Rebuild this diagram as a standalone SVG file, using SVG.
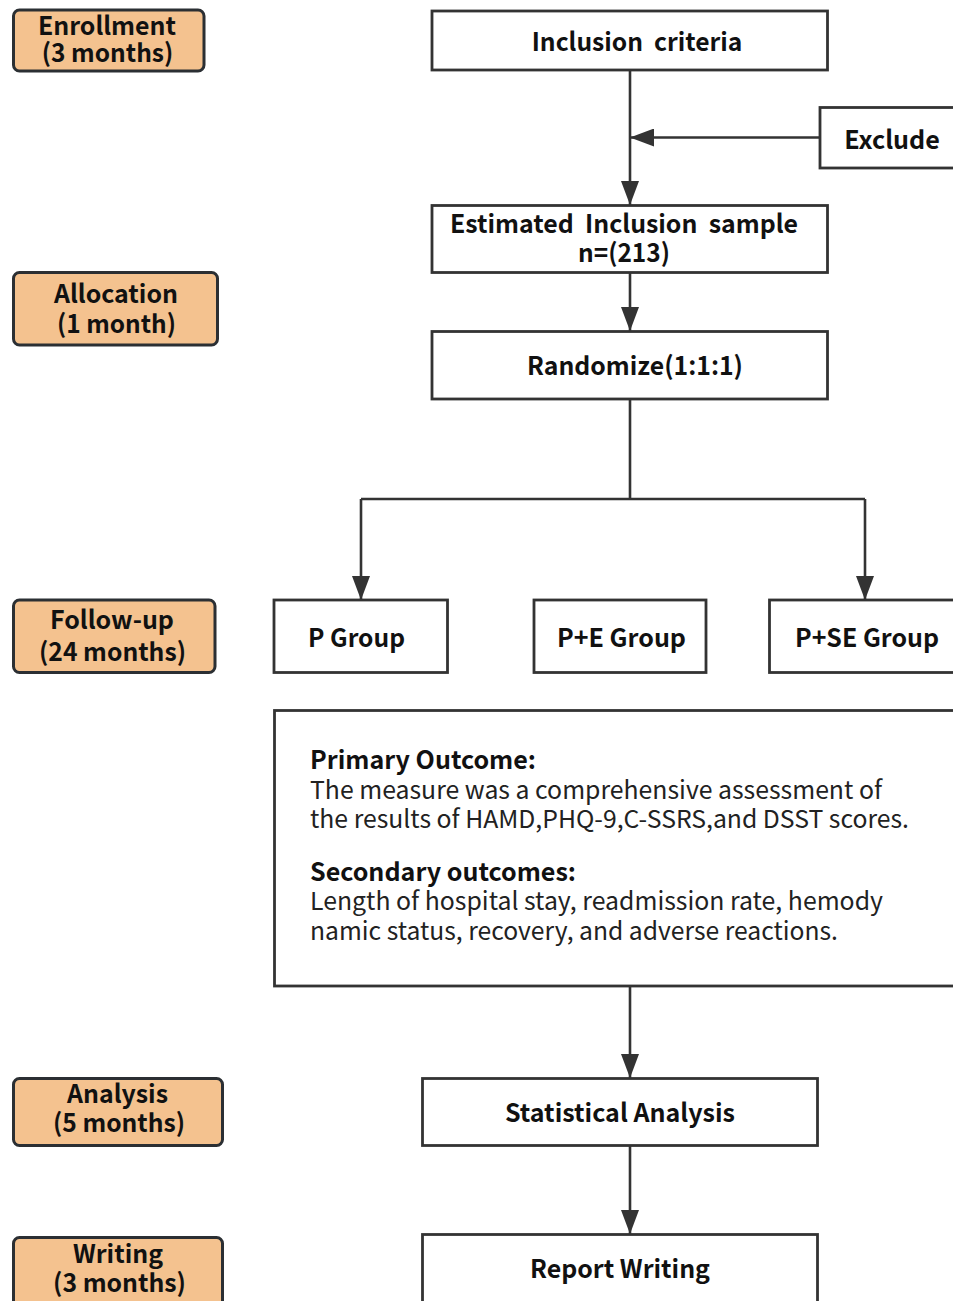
<svg xmlns="http://www.w3.org/2000/svg" width="953" height="1301" viewBox="0 0 953 1301">
<style>
.box{fill:#ffffff;stroke:#333333;stroke-width:2.8}
.phase{fill:#f4c28f;stroke:#2b2f33;stroke-width:3}
.lbl{font-family:"Noto Sans CJK SC","Noto Sans",sans-serif;font-weight:700;font-size:25.4px;fill:#111111;text-anchor:middle}
.body{font-family:"Noto Sans CJK SC","Noto Sans",sans-serif;font-weight:400;font-size:24.9px;fill:#222222}
.head{font-family:"Noto Sans CJK SC","Noto Sans",sans-serif;font-weight:700;font-size:25.2px;fill:#111111}
.con{fill:none;stroke:#333333;stroke-width:2.6}
</style>
<defs>
<marker id="arr" viewBox="0 0 24 18" refX="24" refY="9" markerWidth="24" markerHeight="18" markerUnits="userSpaceOnUse" orient="auto">
<path d="M0,0 L24,9 L0,18 z" fill="#333333"/>
</marker>
</defs>
<rect width="953" height="1301" fill="#ffffff"/>

<g id="connectors">
<path class="con" d="M630,70 V205" marker-end="url(#arr)"/>
<path class="con" d="M820,137.5 H630" marker-end="url(#arr)"/>
<path class="con" d="M630,272 V331" marker-end="url(#arr)"/>
<path class="con" d="M630,399 V499 M361,499 H865"/>
<path class="con" d="M361,499 V600" marker-end="url(#arr)"/>
<path class="con" d="M865,499 V600" marker-end="url(#arr)"/>
<path class="con" d="M630,986 V1078" marker-end="url(#arr)"/>
<path class="con" d="M630,1145 V1234" marker-end="url(#arr)"/>
</g>

<g id="phase-enrollment">
<rect class="phase" x="13.5" y="10" width="190.5" height="61" rx="6"/>
<text class="lbl" x="107" y="35" textLength="138" lengthAdjust="spacingAndGlyphs">Enrollment</text>
<text class="lbl" x="107.5" y="62" textLength="131.5" lengthAdjust="spacingAndGlyphs">(3 months)</text>
</g>
<g id="phase-allocation">
<rect class="phase" x="13.5" y="272.5" width="204" height="72.5" rx="6"/>
<text class="lbl" x="116" y="303" textLength="124" lengthAdjust="spacingAndGlyphs">Allocation</text>
<text class="lbl" x="116.5" y="333" textLength="119" lengthAdjust="spacingAndGlyphs">(1 month)</text>
</g>
<g id="phase-followup">
<rect class="phase" x="13.5" y="600" width="201.5" height="72.5" rx="6"/>
<text class="lbl" x="112" y="629" textLength="124" lengthAdjust="spacingAndGlyphs">Follow-up</text>
<text class="lbl" x="112.5" y="660.5" textLength="147" lengthAdjust="spacingAndGlyphs">(24 months)</text>
</g>
<g id="phase-analysis">
<rect class="phase" x="13.5" y="1078.5" width="209" height="67" rx="6"/>
<text class="lbl" x="117.5" y="1103" textLength="101" lengthAdjust="spacingAndGlyphs">Analysis</text>
<text class="lbl" x="119" y="1132" textLength="132" lengthAdjust="spacingAndGlyphs">(5 months)</text>
</g>
<g id="phase-writing">
<rect class="phase" x="13.5" y="1237.5" width="209" height="80" rx="6"/>
<text class="lbl" x="118" y="1263" textLength="90" lengthAdjust="spacingAndGlyphs">Writing</text>
<text class="lbl" x="119.5" y="1292" textLength="133" lengthAdjust="spacingAndGlyphs">(3 months)</text>
</g>

<g id="node-inclusion">
<rect class="box" x="432" y="11" width="395.5" height="59"/>
<text class="lbl" x="637" y="50.5" xml:space="preserve" textLength="210.5" lengthAdjust="spacingAndGlyphs">Inclusion  criteria</text>
</g>
<g id="node-exclude">
<rect class="box" x="820" y="107.5" width="160" height="60.5"/>
<text class="lbl" x="892" y="149" textLength="95.5" lengthAdjust="spacingAndGlyphs">Exclude</text>
</g>
<g id="node-estimated">
<rect class="box" x="432" y="205.5" width="395.5" height="67"/>
<text class="lbl" x="624" y="233" xml:space="preserve" textLength="348" lengthAdjust="spacingAndGlyphs">Estimated  Inclusion  sample</text>
<text class="lbl" x="624" y="262" textLength="92" lengthAdjust="spacingAndGlyphs">n=(213)</text>
</g>
<g id="node-randomize">
<rect class="box" x="432" y="331.5" width="395.5" height="67.5"/>
<text class="lbl" x="635" y="375" textLength="216" lengthAdjust="spacingAndGlyphs">Randomize(1:1:1)</text>
</g>
<g id="node-p">
<rect class="box" x="274" y="600" width="173.5" height="72.5"/>
<text class="lbl" x="356.5" y="647" textLength="97" lengthAdjust="spacingAndGlyphs">P Group</text>
</g>
<g id="node-pe">
<rect class="box" x="534" y="600" width="172" height="72.5"/>
<text class="lbl" x="621.5" y="647" textLength="129" lengthAdjust="spacingAndGlyphs">P+E Group</text>
</g>
<g id="node-pse">
<rect class="box" x="769.5" y="600" width="200" height="72.5"/>
<text class="lbl" x="867" y="647" textLength="144" lengthAdjust="spacingAndGlyphs">P+SE Group</text>
</g>
<g id="node-outcomes">
<rect class="box" x="274.5" y="710.5" width="700" height="275.5"/>
<text class="head" x="310" y="769" textLength="226" lengthAdjust="spacingAndGlyphs">Primary Outcome:</text>
<text class="body" x="310" y="799" textLength="572" lengthAdjust="spacingAndGlyphs">The measure was a comprehensive assessment of</text>
<text class="body" x="310" y="828" textLength="599" lengthAdjust="spacingAndGlyphs">the results of HAMD,PHQ-9,C-SSRS,and DSST scores.</text>
<text class="head" x="310" y="881" textLength="266" lengthAdjust="spacingAndGlyphs">Secondary outcomes:</text>
<text class="body" x="310" y="910" textLength="573" lengthAdjust="spacingAndGlyphs">Length of hospital stay, readmission rate, hemody</text>
<text class="body" x="310" y="940" textLength="528" lengthAdjust="spacingAndGlyphs">namic status, recovery, and adverse reactions.</text>
</g>
<g id="node-stats">
<rect class="box" x="422.5" y="1078.5" width="395" height="67"/>
<text class="lbl" x="620" y="1122" textLength="230" lengthAdjust="spacingAndGlyphs">Statistical Analysis</text>
</g>
<g id="node-report">
<rect class="box" x="422.5" y="1234.5" width="395" height="80"/>
<text class="lbl" x="620" y="1278" textLength="180" lengthAdjust="spacingAndGlyphs">Report Writing</text>
</g>
</svg>
